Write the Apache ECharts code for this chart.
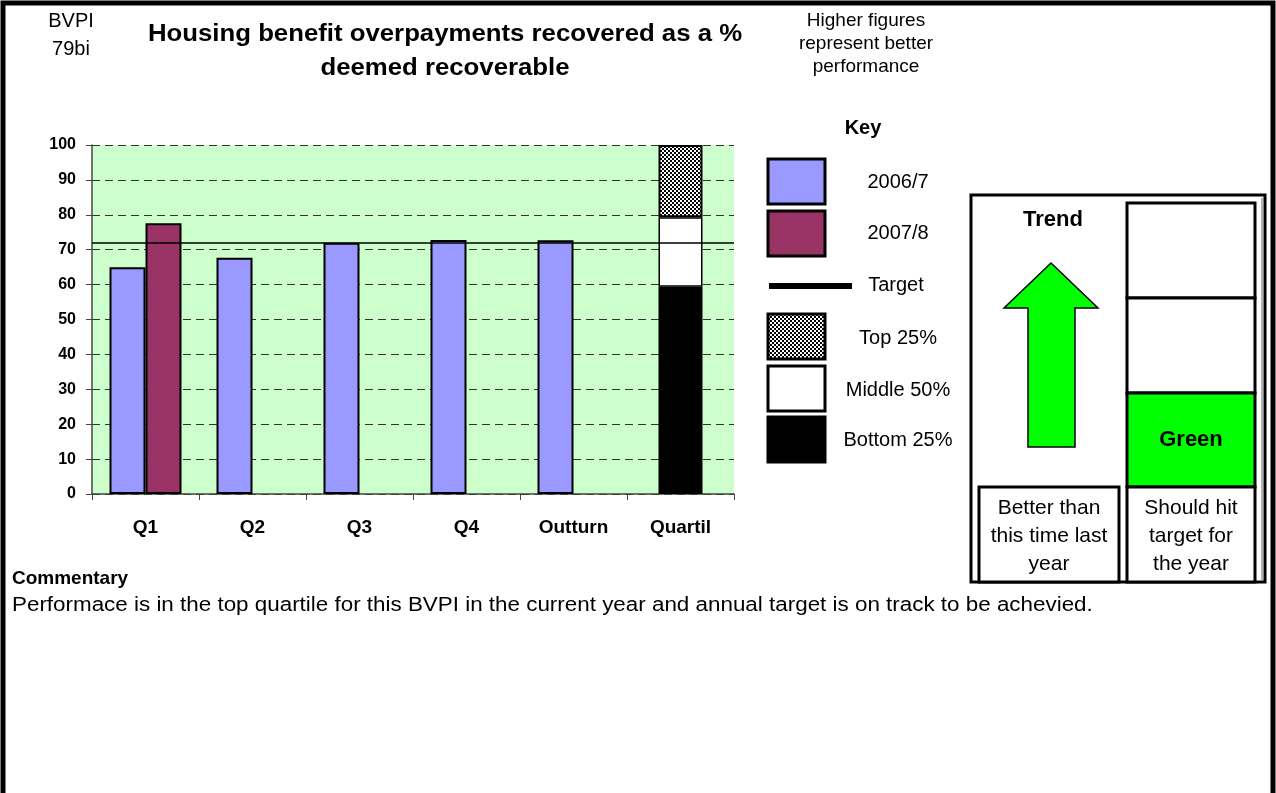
<!DOCTYPE html>
<html>
<head>
<meta charset="utf-8">
<title>Housing benefit overpayments recovered</title>
<script src="https://cdn.jsdelivr.net/npm/echarts@6/dist/echarts.min.js"></script>
<style>
  html, body { margin: 0; padding: 0; background: #ffffff; }
  #chart { width: 1276px; height: 793px; }
</style>
</head>
<body>
<div id="chart"></div>
<script>
// ---- data ----
const categories = ['Q1', 'Q2', 'Q3', 'Q4', 'Outturn', 'Quartil'];
const values2006 = [65, 67.7, 72, 72.8, 72.7, null];
const values2007 = [77.6, null, null, null, null, null];
const quartileBottom = [null, null, null, null, null, 59.4];
const quartileMiddle = [null, null, null, null, null, 19.9];
const quartileTop = [null, null, null, null, null, 20.7];
const targetValue = 72;
const yMin = 0, yMax = 100, yStep = 10;
const keyLabels = ['2006/7', '2007/8', 'Target', 'Top 25%', 'Middle 50%', 'Bottom 25%'];
const titleLines = ['Housing benefit overpayments recovered as a %', 'deemed recoverable'];
const codeLines = ['BVPI', '79bi'];
const noteLines = ['Higher figures', 'represent better', 'performance'];
const trendCaption = ['Better than', 'this time last', 'year'];
const targetCaption = ['Should hit', 'target for', 'the year'];
const commentary = 'Performace is in the top quartile for this BVPI in the current year and annual target is on track to be achevied.';

const FONT = '"Liberation Sans", Arial, sans-serif';
const BLUE = '#9999FF', MAROON = '#993366', PLOT_BG = '#CCFFCC', GO = '#00FF00';

// small checker tile used for the top-quartile fill
function checkerTile() {
  const c = document.createElement('canvas');
  c.width = 4; c.height = 4;
  const g = c.getContext('2d');
  g.fillStyle = '#000'; g.fillRect(0, 0, 4, 4);
  g.fillStyle = '#fff'; g.fillRect(0, 0, 2, 2); g.fillRect(2, 2, 2, 2);
  return c;
}
const checker = { image: checkerTile(), repeat: 'repeat' };

const chart = echarts.init(document.getElementById('chart'), null, { renderer: 'canvas' });

function txt(x, y, text, size, bold, align, sx) {
  return {
    type: 'text', x: x, y: y, silent: true, scaleX: sx || 1,
    style: {
      text: text, fill: '#000', font: (bold ? 'bold ' : '') + size + 'px ' + FONT,
      align: align || 'center', verticalAlign: 'middle'
    }
  };
}
function box(x, y, w, h, fill, lw) {
  return { type: 'rect', silent: true, shape: { x: x, y: y, width: w, height: h },
           style: { fill: fill, stroke: '#000', lineWidth: lw } };
}

const graphics = [];
// page frame
graphics.push({ type: 'polyline', silent: true,
  shape: { points: [[3, 800], [3, 3], [1273, 3], [1273, 800]] },
  style: { stroke: '#000', lineWidth: 5, fill: null } });

// heading
codeLines.forEach((t, i) => graphics.push(txt(71, 21 + i * 28, t, 20, false)));
titleLines.forEach((t, i) => graphics.push(txt(445, 35 + i * 34, t, 23, true, 'center', 1.12)));
noteLines.forEach((t, i) => graphics.push(txt(866, 21 + i * 23, t, 19, false)));

// key
graphics.push(txt(863, 128, 'Key', 20, true));
const swX = 768, swW = 57, swH = 45;
const swTops = [159, 211, null, 314, 366, 417];
const swFills = [BLUE, MAROON, null, checker, '#fff', '#000'];
const keyY = [182, 233, 285, 338, 390, 440];
keyLabels.forEach((label, i) => {
  if (swTops[i] === null) {
    graphics.push({ type: 'rect', silent: true, shape: { x: 769, y: 283, width: 83, height: 6 },
                    style: { fill: '#000' } });
    graphics.push(txt(896, keyY[i], label, 20, false));
  } else {
    graphics.push(box(swX, swTops[i], swW, swH, swFills[i], 3));
    graphics.push(txt(898, keyY[i], label, 20, false));
  }
});

// trend / target panel
graphics.push(box(971, 195, 294, 387, '#fff', 3));
graphics.push({ type: 'polyline', silent: true,
  shape: { points: [[1262, 198], [1262, 580]] }, style: { stroke: '#666', lineWidth: 1 } });
graphics.push(txt(1053, 220, 'Trend', 22, true));
graphics.push({ type: 'polygon', silent: true,
  shape: { points: [[1051, 263], [1098, 308], [1075, 308], [1075, 447], [1028, 447], [1028, 308], [1004, 308]] },
  style: { fill: GO, stroke: '#000', lineWidth: 1.5 } });
graphics.push(box(1127, 203, 128, 95, '#fff', 3));
graphics.push(box(1127, 298, 128, 95, '#fff', 3));
graphics.push(box(1127, 393, 128, 94, GO, 3));
graphics.push(txt(1191, 440, 'Green', 22, true));
graphics.push(box(1127, 487, 128, 95, '#fff', 3));
graphics.push(box(979, 487, 140, 95, '#fff', 3));
trendCaption.forEach((t, i) => graphics.push(txt(1049, 508 + i * 28, t, 21, false)));
targetCaption.forEach((t, i) => graphics.push(txt(1191, 508 + i * 28, t, 21, false)));

// commentary
graphics.push(txt(12, 579, 'Commentary', 19, true, 'left'));
graphics.push(txt(12, 605, commentary, 20, false, 'left', 1.12));

const option = {
  animation: false,
  backgroundColor: '#ffffff',
  textStyle: { fontFamily: FONT },
  grid: { left: 92, right: 542, top: 145, bottom: 299, show: true,
          backgroundColor: PLOT_BG, borderWidth: 0 },
  xAxis: [
    { type: 'category', data: categories, boundaryGap: true,
      axisLine: { lineStyle: { color: '#444', width: 1.5 } },
      axisTick: { show: true, interval: 0, length: 6, lineStyle: { color: '#444' } },
      axisLabel: { interval: 0, margin: 24, color: '#000', fontWeight: 'bold', fontSize: 19, fontFamily: FONT } },
    { type: 'category', data: categories, show: false }
  ],
  yAxis: {
    type: 'value', min: yMin, max: yMax, interval: yStep,
    axisLine: { show: true, lineStyle: { color: '#444', width: 1.5 } },
    axisTick: { show: true, length: 6, lineStyle: { color: '#444' } },
    axisLabel: { margin: 16, color: '#000', fontWeight: 'bold', fontSize: 16, fontFamily: FONT },
    splitLine: { show: true, lineStyle: { color: '#333', width: 1, type: [8, 5] } }
  },
  series: [
    { name: '2006/7', type: 'bar', data: values2006, barWidth: 36, barGap: '0%',
      itemStyle: { color: BLUE, borderColor: '#000', borderWidth: 2 } },
    { name: '2007/8', type: 'bar', data: values2007, barWidth: 36, barGap: '0%',
      itemStyle: { color: MAROON, borderColor: '#000', borderWidth: 2 } },
    { name: 'Bottom 25%', type: 'bar', xAxisIndex: 1, stack: 'q', data: quartileBottom, barWidth: 44,
      itemStyle: { color: '#000', borderColor: '#000', borderWidth: 1.5 } },
    { name: 'Middle 50%', type: 'bar', xAxisIndex: 1, stack: 'q', data: quartileMiddle, barWidth: 44,
      itemStyle: { color: '#fff', borderColor: '#000', borderWidth: 1.5 } },
    { name: 'Top 25%', type: 'bar', xAxisIndex: 1, stack: 'q', data: quartileTop, barWidth: 44,
      itemStyle: { color: checker, borderColor: '#000', borderWidth: 2 } },
    { name: 'Target', type: 'line', data: [], z: 10,
      markLine: { silent: true, symbol: 'none', label: { show: false },
                  lineStyle: { color: '#000', width: 1.5, type: 'solid' },
                  data: [{ yAxis: targetValue }] } }
  ],
  graphic: graphics
};
chart.setOption(option);
</script>
</body>
</html>
